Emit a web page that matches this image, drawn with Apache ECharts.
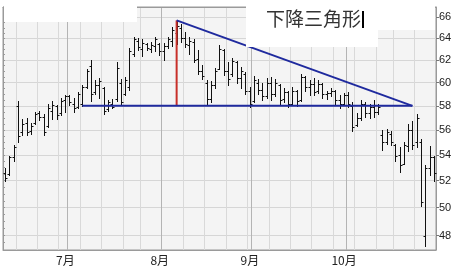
<!DOCTYPE html>
<html><head><meta charset="utf-8">
<script src="https://cdn.jsdelivr.net/npm/echarts@6/dist/echarts.min.js"></script>
<style>html,body{margin:0;padding:0;background:#fff}#c{width:461px;height:266px}</style>
</head><body><div id="c"></div>
<script>
const dates = ['6/10','6/11','6/12','6/15','6/16','6/17','6/18','6/19','6/22','6/23','6/24','6/25','6/26','6/29','6/30',
'7/1','7/2','7/3','7/6','7/7','7/8','7/9','7/10','7/13','7/14','7/15','7/16','7/17','7/21','7/22','7/23','7/24','7/27','7/28','7/29','7/30','7/31',
'8/3','8/4','8/5','8/6','8/7','8/10','8/11','8/12','8/13','8/14','8/17','8/18','8/19','8/20','8/21','8/24','8/25','8/26','8/27','8/28','8/31',
'9/1','9/2','9/3','9/4','9/7','9/8','9/9','9/10','9/11','9/14','9/15','9/16','9/17','9/18','9/21','9/22','9/23','9/24','9/25','9/28','9/29','9/30',
'10/1','10/2','10/5','10/6','10/7','10/8','10/9','10/13','10/14','10/15','10/16','10/19','10/20','10/21','10/22','10/23','10/26','10/27','10/28','10/29','10/30'];
const openP = [52.6,52.5,53.8,58.0,55.8,56.6,55.9,56.6,57.4,57.1,56.3,57.6,58.0,57.4,58.5,
58.8,58.2,57.9,58.2,59.6,61.5,59.2,59.8,59.5,57.7,58.2,58.6,60.0,59.0,59.6,62.6,63.8,63.0,63.5,63.0,63.3,63.5,
62.8,63.3,63.8,64.5,65.0,64.0,63.4,63.7,62.1,61.0,60.0,58.6,59.8,61.2,62.9,61.0,60.8,61.8,60.4,60.8,59.3,
58.4,60.0,59.4,58.8,60.0,59.0,59.8,58.6,59.2,58.2,59.3,58.5,60.5,59.6,59.9,59.3,59.9,59.0,59.1,59.3,58.5,58.2,
58.9,58.0,56.4,57.0,58.2,57.4,57.9,57.5,55.6,55.0,55.7,54.8,54.0,53.3,54.7,56.0,55.0,55.0,48.0,53.0,53.8];
const highP = [53.0,53.9,54.8,58.4,56.9,57.0,56.6,57.5,57.6,57.3,58.2,58.4,58.1,58.7,58.9,
58.9,58.7,59.2,59.8,61.2,62.0,60.2,60.4,59.6,58.5,58.6,61.8,60.3,60.5,63.1,64.1,64.0,63.9,63.6,63.7,64.1,63.6,
63.6,64.1,65.1,65.7,65.4,64.6,64.1,63.9,62.9,61.6,60.2,60.1,61.3,63.4,63.0,61.8,62.2,61.9,61.4,60.9,59.6,
60.6,60.3,60.0,60.4,60.5,60.3,59.9,59.5,59.3,59.6,59.4,60.8,60.6,60.2,60.4,60.2,60.0,59.3,59.5,59.4,58.9,59.1,
59.2,58.3,57.4,58.5,58.3,58.2,58.5,58.2,56.0,56.1,55.9,54.9,54.6,55.0,56.5,56.7,57.3,55.3,53.2,54.7,53.9];
const lowP = [52.0,52.4,53.5,55.0,55.6,55.6,55.7,56.5,56.8,55.6,56.2,56.9,56.9,57.2,57.5,
58.1,57.5,57.8,58.0,59.5,58.4,59.0,58.7,57.3,57.6,57.8,58.4,58.1,58.9,59.4,62.4,62.9,62.4,62.9,62.7,62.8,62.5,
62.0,63.1,63.3,63.5,63.7,63.2,62.6,61.8,60.8,60.3,58.2,58.3,59.5,61.2,60.7,59.8,60.6,60.0,59.5,59.0,57.9,
58.3,59.0,58.5,58.7,58.5,58.8,58.2,58.3,57.9,58.1,58.0,58.4,59.3,58.9,58.9,59.1,58.7,58.6,58.8,58.2,57.8,58.1,
57.9,55.9,56.3,56.8,57.1,57.0,57.1,57.3,54.4,54.9,54.8,53.5,52.7,53.3,54.3,54.5,54.6,50.1,47.3,52.4,52.0];
const closeP = [52.2,53.8,54.6,55.5,56.5,55.8,56.3,57.3,57.1,55.8,57.8,58.1,57.2,58.4,58.8,
58.3,57.8,59.0,59.6,61.0,59.0,59.8,60.1,57.6,58.3,57.9,61.3,58.3,60.2,62.8,63.9,63.2,63.6,63.1,63.4,63.9,62.8,
63.3,63.9,64.8,65.2,64.0,63.5,63.8,62.0,61.0,60.6,58.6,59.8,61.0,63.0,61.0,60.3,61.9,60.4,61.0,59.3,58.2,
60.2,59.4,58.8,60.0,59.0,60.0,58.5,59.2,58.2,59.3,58.4,60.5,59.6,59.9,59.2,59.9,59.0,59.1,59.3,58.5,58.2,58.9,
58.2,56.2,57.0,58.2,57.4,57.9,57.5,57.9,55.0,55.8,55.0,53.9,53.2,54.8,56.0,54.8,57.0,50.4,53.0,53.8,52.6];
const priceTicks = [48,50,52,54,56,58,60,62,64,66];
const yRange = [47, 67];
const apex = [40, 65.7];      // peak bar index, price
const support = 58;
const supportStart = 18;
const triangleEnd = 95;
const titleText = '下降三角形';

const L = Math.log;
const monthOf = s => +s.split('/')[0];
const isMonthStart = i => i > 0 && monthOf(dates[i]) !== monthOf(dates[i-1]);
const dow = s => { const [m,d] = s.split('/').map(Number); return new Date(2009, m-1, d).getDay(); };
const isWeekStart = i => i > 0 && dow(dates[i]) <= dow(dates[i-1]);

const ohlc = dates.map((d,i) => [i, L(openP[i]), L(highP[i]), L(lowP[i]), L(closeP[i])]);
const minorTicks = [];
for (let p = yRange[0]; p <= yRange[1]; p += 0.5) minorTicks.push(L(p));

const chart = echarts.init(document.getElementById('c'), null, {renderer:'canvas'});
chart.setOption({
  animation:false,
  backgroundColor:'#fff',
  grid:{left:3,right:25,top:7,bottom:16,show:true,backgroundColor:'#f4f4f4',borderColor:'#9a9a9a',borderWidth:1},
  xAxis:[{
    type:'category',data:dates,boundaryGap:true,
    axisLine:{lineStyle:{color:'#9a9a9a'}},
    axisTick:{interval:0,length:2,lineStyle:{color:'#9a9a9a'}},
    axisLabel:{interval:(i)=>isMonthStart(i),formatter:(v)=>monthOf(v)+'月',fontSize:12,color:'#222',margin:4,padding:[0,8,0,0],fontFamily:'Noto Sans CJK JP'},
    splitLine:{show:true,interval:(i)=>isWeekStart(i),lineStyle:{color:'#d9d9d9',width:1}}
  },{
    type:'category',data:dates,boundaryGap:true,position:'top',
    axisLine:{lineStyle:{color:'#9a9a9a'}},
    axisTick:{interval:0,length:2,inside:true,lineStyle:{color:'#9a9a9a'}},
    axisLabel:{show:false},
    splitLine:{show:true,interval:(i)=>isMonthStart(i),lineStyle:{color:'#b4b4b4',width:1}}
  }],
  yAxis:[{
    type:'value',position:'right',min:L(yRange[0]),max:L(yRange[1]),
    axisLine:{show:true,lineStyle:{color:'#9a9a9a'}},
    axisTick:{show:true,length:3,customValues:priceTicks.map(L),lineStyle:{color:'#777'}},
    axisLabel:{customValues:priceTicks.map(L),formatter:(v)=>String(Math.round(Math.exp(v))),fontSize:11,color:'#222',margin:3,fontFamily:'Liberation Sans'},
    splitLine:{show:true,lineStyle:{color:'#d6d6d6'}}
  },{
    type:'value',position:'left',min:L(yRange[0]),max:L(yRange[1]),
    axisLine:{show:true,lineStyle:{color:'#9a9a9a'}},
    axisTick:{show:true,inside:true,length:2,customValues:minorTicks,lineStyle:{color:'#9a9a9a'}},
    axisLabel:{show:false},splitLine:{show:false}
  }],
  series:[{
    type:'custom',xAxisIndex:0,yAxisIndex:0,z:2,
    data:ohlc,encode:{x:0,y:[1,2,3,4]},
    renderItem:(params,api)=>{
      const i=api.value(0);
      const o=api.coord([i,api.value(1)]), h=api.coord([i,api.value(2)]), l=api.coord([i,api.value(3)]), c=api.coord([i,api.value(4)]);
      const x=Math.round(h[0])+0.5;
      const st={stroke:'#111',lineWidth:1};
      return {type:'group',children:[
        {type:'line',shape:{x1:x,y1:Math.round(h[1]),x2:x,y2:Math.round(l[1])+1},style:st},
        {type:'line',shape:{x1:x-2,y1:Math.round(o[1])+0.5,x2:x,y2:Math.round(o[1])+0.5},style:st},
        {type:'line',shape:{x1:x,y1:Math.round(c[1])+0.5,x2:x+2,y2:Math.round(c[1])+0.5},style:st}
      ]};
    }
  },{
    type:'line',z:4,symbol:'none',silent:true,
    data:[[apex[0],L(apex[1])],[apex[0],L(support)]],
    lineStyle:{color:'#c8302a',width:2}
  },{
    type:'line',z:4,symbol:'none',silent:true,
    data:[[supportStart,L(support)],[triangleEnd,L(support)]],
    lineStyle:{color:'#1f2a9e',width:2}
  },{
    type:'line',z:4,symbol:'none',silent:true,
    data:[[apex[0],L(apex[1])],[triangleEnd,L(support)]],
    lineStyle:{color:'#1f2a9e',width:2}
  }],
  graphic:[
    {type:'rect',z:100,shape:{x:4,y:0,width:133,height:22},style:{fill:'#fff'}},
    {type:'rect',z:100,shape:{x:246,y:0,width:132,height:47},style:{fill:'#fff'}},
    {type:'rect',z:100,shape:{x:378,y:0,width:57,height:30},style:{fill:'#fff'}},
    {type:'text',z:101,x:266,y:9,style:{text:titleText,fontSize:19,fontFamily:'Noto Sans CJK JP',fill:'#333'}},
    {type:'rect',z:101,shape:{x:362,y:11,width:2,height:17},style:{fill:'#000'}}
  ]
});
</script></body></html>
